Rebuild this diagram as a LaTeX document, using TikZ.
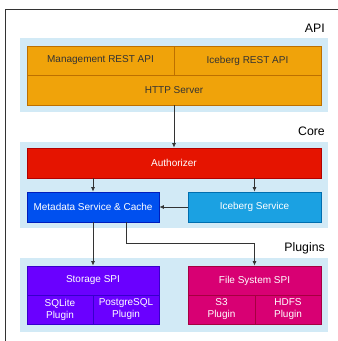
\documentclass[tikz,border=0pt]{standalone}
\usepackage{fontspec}
\setmainfont{Liberation Sans}
\usetikzlibrary{arrows.meta}
\definecolor{panelc}{RGB}{210,234,246}
\definecolor{orangef}{HTML}{F0A30A}\definecolor{oranged}{HTML}{BD7000}
\definecolor{redf}{HTML}{E51400}\definecolor{redd}{HTML}{B20000}
\definecolor{bluef}{HTML}{0050EF}\definecolor{blued}{HTML}{001DBC}
\definecolor{cyanf}{HTML}{1BA1E2}\definecolor{cyand}{HTML}{006EAF}
\definecolor{violetf}{HTML}{6A00FF}\definecolor{violetd}{HTML}{3700CC}
\definecolor{magf}{HTML}{D80073}\definecolor{magd}{HTML}{A50040}
\definecolor{linec}{HTML}{333333}
\begin{document}
\begin{tikzpicture}[x=1pt,y=-1pt,
  box/.style={rectangle, draw, line width=0.8pt, inner sep=0pt, align=center,
    font=\fontsize{10}{12}\selectfont},
  obox/.style={box, fill=orangef, draw=oranged, text=linec},
  wbox/.style={box, text=white},
  panel/.style={fill=panelc, draw=none},
  lbl/.style={anchor=east, inner sep=0pt, font=\fontsize{12.3}{14}\selectfont, text=black},
  arr/.style={draw=linec, line width=0.7pt, -{Latex[length=4.5pt,width=4pt]}}]
\useasboundingbox (0,0) rectangle (338,341);
\begin{scope}
\clip (0,0) rectangle (338,341);
\draw[linec, line width=0.8pt] (5.5,9.5) rectangle (360,360);
\end{scope}
% panels
\fill[panel] (20,38) rectangle (328,112);
\fill[panel] (20,142) rectangle (328,228);
\fill[panel] (20,258) rectangle (328,332);
% labels
\node[lbl] (lapi) at (325,28) {API};
\node[lbl] (lcore) at (325,131) {Core};
\node[lbl] (lplug) at (325,248) {Plugins};
% API
\node[obox, minimum width=147pt, minimum height=29pt] (mgmt) at (100.5,60.5) {Management REST API};
\node[obox, minimum width=147pt, minimum height=29pt] (icerest) at (247.5,60.5) {Iceberg REST API};
\node[obox, minimum width=294pt, minimum height=30pt] (http) at (174,90) {HTTP Server};
% Core
\node[wbox, fill=redf, draw=redd, minimum width=294pt, minimum height=30pt] (auth) at (174,163) {Authorizer};
\node[wbox, fill=bluef, draw=blued, minimum width=132pt, minimum height=30pt] (meta) at (93,207) {Metadata Service \& Cache};
\node[wbox, fill=cyanf, draw=cyand, minimum width=133pt, minimum height=30pt] (icesvc) at (254.5,207) {Iceberg Service};
% Plugins
\node[wbox, fill=violetf, draw=violetd, minimum width=132pt, minimum height=29pt] (storage) at (93,280.5) {Storage SPI};
\node[wbox, fill=violetf, draw=violetd, minimum width=66pt, minimum height=29pt] (sqlite) at (60,309.5) {SQLite\\Plugin};
\node[wbox, fill=violetf, draw=violetd, minimum width=66pt, minimum height=29pt] (pg) at (126,309.5) {PostgreSQL\\Plugin};
\node[wbox, fill=magf, draw=magd, minimum width=133pt, minimum height=29pt] (fs) at (254.5,280.5) {File System SPI};
\node[wbox, fill=magf, draw=magd, minimum width=67pt, minimum height=29pt] (s3) at (221.5,309.5) {S3\\Plugin};
\node[wbox, fill=magf, draw=magd, minimum width=66pt, minimum height=29pt] (hdfs) at (288,309.5) {HDFS\\Plugin};
% connectors
\draw[arr] (http) -- (auth);
\draw[arr] (auth.south -| meta) -- (meta);
\draw[arr] (auth.south -| icesvc) -- (icesvc);
\draw[arr] (icesvc) -- (meta);
\draw[arr] (meta) -- (storage);
\coordinate (elbow) at (126,243);
\draw[arr] (meta.south -| elbow) -- (elbow) -| (fs.north);
\end{tikzpicture}
\end{document}
